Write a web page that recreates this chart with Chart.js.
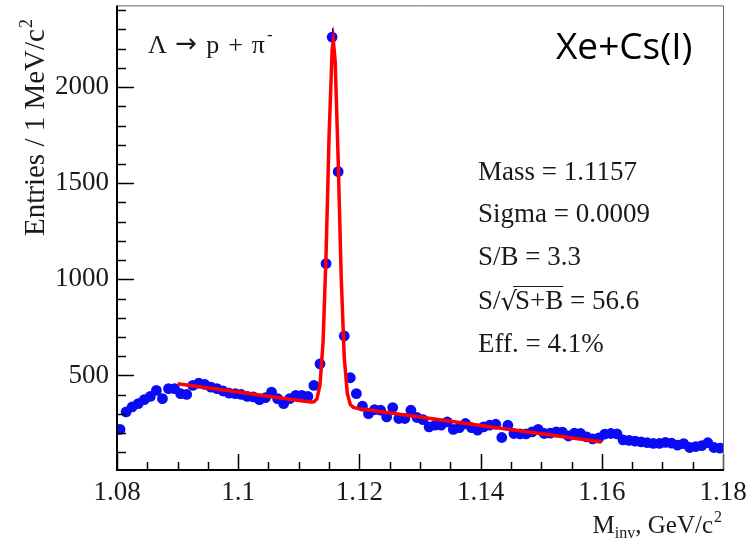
<!DOCTYPE html>
<html>
<head>
<meta charset="utf-8">
<script src="https://cdn.jsdelivr.net/npm/chart.js@4.4.1/dist/chart.umd.min.js"></script>
<style>
  html, body { margin: 0; padding: 0; background: #ffffff; }
  #wrap { width: 754px; height: 553px; }
</style>
</head>
<body>
<div id="wrap"><canvas id="c" width="754" height="553"></canvas></div>
<script>
// Invariant-mass bin centres (GeV/c^2), 1 MeV bins
const massBins = [
  1.0805, 1.0815, 1.0825, 1.0835, 1.0845, 1.0855, 1.0865, 1.0875, 1.0885, 1.0895,
  1.0905, 1.0915, 1.0925, 1.0935, 1.0945, 1.0955, 1.0965, 1.0975, 1.0985, 1.0995,
  1.1005, 1.1015, 1.1025, 1.1035, 1.1045, 1.1055, 1.1065, 1.1075, 1.1085, 1.1095,
  1.1105, 1.1115, 1.1125, 1.1135, 1.1145, 1.1155, 1.1165, 1.1175, 1.1185, 1.1195,
  1.1205, 1.1215, 1.1225, 1.1235, 1.1245, 1.1255, 1.1265, 1.1275, 1.1285, 1.1295,
  1.1305, 1.1315, 1.1325, 1.1335, 1.1345, 1.1355, 1.1365, 1.1375, 1.1385, 1.1395,
  1.1405, 1.1415, 1.1425, 1.1435, 1.1445, 1.1455, 1.1465, 1.1475, 1.1485, 1.1495,
  1.1505, 1.1515, 1.1525, 1.1535, 1.1545, 1.1555, 1.1565, 1.1575, 1.1585, 1.1595,
  1.1605, 1.1615, 1.1625, 1.1635, 1.1645, 1.1655, 1.1665, 1.1675, 1.1685, 1.1695,
  1.1705, 1.1715, 1.1725, 1.1735, 1.1745, 1.1755, 1.1765, 1.1775, 1.1785, 1.1795
];

// Entries per bin
const entries = [
  219, 310, 336, 353, 374, 391, 422, 379, 431, 431,
  405, 401, 448, 460, 453, 439, 431, 419, 408, 405,
  401, 391, 388, 374, 384, 413, 379, 353, 379, 396,
  396, 391, 448, 560, 1082, 2260, 1560, 705, 488, 405,
  340, 301, 322, 319, 284, 333, 276, 276, 319, 281,
  270, 232, 241, 241, 258, 219, 228, 250, 228, 215,
  232, 241, 246, 177, 241, 198, 196, 196, 206, 219,
  198, 200, 206, 205, 185, 200, 198, 180, 170, 175,
  195, 198, 196, 165, 162, 158, 154, 150, 146, 146,
  152, 148, 137, 145, 125, 130, 135, 150, 125, 122
];

// Fit curve (gaussian peak on a linear background), sampled points
const fitMass = [
  1.0900, 1.1000, 1.1100, 1.1120, 1.1125, 1.1130, 1.1135, 1.1140, 1.1145, 1.1150,
  1.1155, 1.1157, 1.1160, 1.1165, 1.1170, 1.1175, 1.1180, 1.1185, 1.1190, 1.1200,
  1.1300, 1.1400, 1.1500, 1.1600
];
const fitEntries = [
  457, 414, 370, 362, 363, 378, 451, 671, 1130, 1749,
  2195, 2241, 2137, 1619, 1008, 594, 408, 349, 334, 327,
  284, 240, 197, 154
];

const xTickValues = [1.08, 1.10, 1.12, 1.14, 1.16, 1.18];
const yTickValues = [500, 1000, 1500, 2000];

const SERIF = '"Liberation Serif", "Times New Roman", serif';

// ROOT-style frame: inward ticks, thin top/right border
const frameTicks = {
  id: 'frameTicks',
  afterDraw(chart) {
    const { ctx, chartArea: a, scales: { x, y } } = chart;
    ctx.save();
    ctx.strokeStyle = '#000';
    ctx.lineWidth = 1.5;
    for (let i = 0; i <= 20; i++) {
      const v = 1.08 + i * 0.005;
      const px = Math.round(x.getPixelForValue(v)) + 0.5;
      const major = i % 4 === 0;
      ctx.beginPath();
      ctx.moveTo(px, a.bottom);
      ctx.lineTo(px, a.bottom - (major ? 16 : 8));
      ctx.stroke();
    }
    for (let v = 100; v <= 2400; v += 100) {
      const py = Math.round(y.getPixelForValue(v)) + 0.5;
      const major = v % 500 === 0;
      ctx.beginPath();
      ctx.moveTo(a.left, py);
      ctx.lineTo(a.left + (major ? 17 : 9), py);
      ctx.stroke();
    }
    ctx.strokeStyle = '#666';
    ctx.lineWidth = 1;
    ctx.beginPath();
    ctx.moveTo(a.left, a.top + 0.5);
    ctx.lineTo(a.right + 0.5, a.top + 0.5);
    ctx.lineTo(a.right + 0.5, a.bottom);
    ctx.stroke();
    ctx.strokeStyle = '#000';
    ctx.lineWidth = 2;
    ctx.beginPath();
    ctx.moveTo(a.left, a.top);
    ctx.lineTo(a.left, a.bottom);
    ctx.lineTo(a.right + 1, a.bottom);
    ctx.stroke();
    ctx.restore();
  }
};

// Poisson error bars on the histogram points
const errorBars = {
  id: 'errorBars',
  beforeDatasetDraw(chart, args) {
    if (args.index !== 1) return;
    const { ctx, scales: { x, y } } = chart;
    ctx.save();
    ctx.strokeStyle = '#0000ff';
    ctx.lineWidth = 1;
    massBins.forEach((m, i) => {
      const v = entries[i];
      const e = Math.sqrt(v);
      const px = Math.round(x.getPixelForValue(m)) + 0.5;
      ctx.beginPath();
      ctx.moveTo(px, y.getPixelForValue(v - e));
      ctx.lineTo(px, y.getPixelForValue(v + e));
      ctx.stroke();
    });
    ctx.restore();
  }
};

// Axis titles, decay label, system label and fit summary
const annotations = {
  id: 'annotations',
  afterDraw(chart) {
    const { ctx } = chart;
    ctx.save();
    ctx.fillStyle = '#1a1a1a';
    ctx.textBaseline = 'alphabetic';

    // y title (rotated)
    ctx.save();
    ctx.translate(44, 236);
    ctx.rotate(-Math.PI / 2);
    ctx.font = '29px ' + SERIF;
    ctx.textAlign = 'left';
    const yt = 'Entries / 1 MeV/c';
    ctx.fillText(yt, 0, 0);
    const ytw = ctx.measureText(yt).width;
    ctx.font = '18px ' + SERIF;
    ctx.fillText('2', ytw + 1, -12);
    ctx.restore();

    // x title, right aligned
    ctx.font = '25px ' + SERIF;
    const wM = ctx.measureText('M').width;
    const wRest = ctx.measureText(', GeV/c').width;
    ctx.font = '16px ' + SERIF;
    const wInv = ctx.measureText('inv').width;
    const wSq = ctx.measureText('2').width;
    let xs = 722 - (wM + wInv + wRest + wSq + 1);
    const by = 533;
    ctx.textAlign = 'left';
    ctx.font = '25px ' + SERIF;
    ctx.fillText('M', xs, by); xs += wM;
    ctx.font = '16px ' + SERIF;
    ctx.fillText('inv', xs, by + 5); xs += wInv;
    ctx.font = '25px ' + SERIF;
    ctx.fillText(', GeV/c', xs, by); xs += wRest + 1;
    ctx.font = '16px ' + SERIF;
    ctx.fillText('2', xs, by - 11);

    // decay channel
    let dx = 148;
    const dy = 53;
    ctx.font = '26px ' + SERIF;
    ctx.fillText('\u039B', dx, dy); dx += ctx.measureText('\u039B ').width + 2;
    ctx.font = '26px "DejaVu Sans", sans-serif';
    ctx.fillText('\u2192', dx, dy - 1); dx += ctx.measureText('\u2192').width + 9;
    ctx.font = '26px ' + SERIF;
    ctx.fillText('p', dx, dy); dx += ctx.measureText('p').width + 9;
    ctx.fillText('+', dx, dy); dx += ctx.measureText('+').width + 9;
    ctx.fillText('\u03C0', dx, dy); dx += ctx.measureText('\u03C0').width;
    ctx.font = '17px ' + SERIF;
    ctx.fillText('-', dx + 2, dy - 13);

    // colliding system
    ctx.fillStyle = '#000';
    ctx.font = '37px "Open Sans", "Noto Sans", sans-serif';
    ctx.fillText('Xe+Cs(I)', 556, 59);

    // fit summary
    ctx.fillStyle = '#1a1a1a';
    ctx.font = '27px ' + SERIF;
    const sx = 478;
    const base = [180, 222, 265, 309, 352];
    ctx.fillText('Mass = 1.1157', sx, base[0]);
    ctx.fillText('Sigma = 0.0009', sx, base[1]);
    ctx.fillText('S/B = 3.3', sx, base[2]);
    let cx = sx;
    ctx.fillText('S/', cx, base[3]); cx += ctx.measureText('S/').width + 1;
    ctx.font = '26px "DejaVu Serif", serif';
    ctx.fillText('\u221A', cx - 1, base[3] + 1);
    const rw = ctx.measureText('\u221A').width;
    ctx.font = '27px ' + SERIF;
    const rs = cx + rw - 3;
    const sb = 'S+B';
    const sbw = ctx.measureText(sb).width;
    ctx.fillText(sb, rs, base[3]);
    ctx.strokeStyle = '#1a1a1a';
    ctx.lineWidth = 1.2;
    ctx.beginPath();
    ctx.moveTo(rs - 2, base[3] - 22.5);
    ctx.lineTo(rs + sbw, base[3] - 22.5);
    ctx.stroke();
    ctx.fillText(' = 56.6', rs + sbw, base[3]);
    ctx.fillText('Eff. = 4.1%', sx, base[4]);
    ctx.restore();
  }
};

const histPoints = massBins.map((m, i) => ({ x: m, y: entries[i] }));
const fitPoints = fitMass.map((m, i) => ({ x: m, y: fitEntries[i] }));

function pinScale(scale) {
  scale.paddingTop = 0;
  scale.paddingBottom = 0;
  scale.paddingLeft = 0;
  scale.paddingRight = 0;
}

new Chart(document.getElementById('c'), {
  type: 'scatter',
  data: {
    datasets: [
      {
        type: 'line',
        label: 'fit',
        data: fitPoints,
        borderColor: '#ff0000',
        borderWidth: 3.5,
        pointRadius: 0,
        tension: 0,
        fill: false,
        order: 0
      },
      {
        label: 'data',
        data: histPoints,
        backgroundColor: '#0a0af5',
        borderWidth: 0,
        pointRadius: 5.4,
        order: 1
      }
    ]
  },
  options: {
    responsive: false,
    animation: false,
    layout: { padding: { left: 0, right: 31, top: 5, bottom: 0 } },
    plugins: { legend: { display: false }, tooltip: { enabled: false } },
    scales: {
      x: {
        type: 'linear',
        min: 1.08,
        max: 1.18,
        afterBuildTicks(scale) { scale.ticks = xTickValues.map(v => ({ value: v })); },
        afterFit(scale) { scale.height = 83; pinScale(scale); },
        grid: { display: false, drawTicks: false },
        border: { display: false },
        ticks: {
          padding: 7,
          color: '#1a1a1a',
          font: { family: SERIF, size: 27 },
          maxRotation: 0,
          autoSkip: false,
          callback: v => String(Number(v.toFixed(2)))
        }
      },
      y: {
        type: 'linear',
        min: 8,
        max: 2425,
        afterBuildTicks(scale) { scale.ticks = yTickValues.map(v => ({ value: v })); },
        afterFit(scale) { scale.width = 117; pinScale(scale); },
        grid: { display: false, drawTicks: false },
        border: { display: false },
        ticks: {
          padding: 8,
          color: '#1a1a1a',
          font: { family: SERIF, size: 27 },
          callback: v => String(v)
        }
      }
    }
  },
  plugins: [errorBars, frameTicks, annotations]
});
</script>
</body>
</html>
